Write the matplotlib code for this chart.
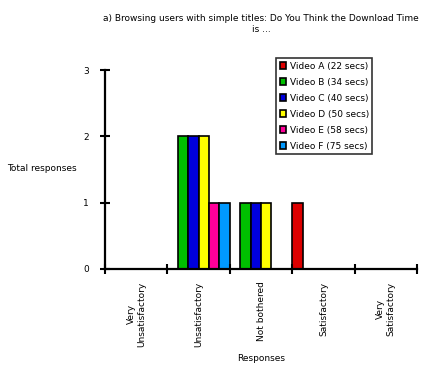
import numpy as np
import matplotlib
matplotlib.use("Agg")
import matplotlib.pyplot as plt

categories = ["Very\nUnsatisfactory", "Unsatisfactory", "Not bothered",
              "Satisfactory", "Very\nSatisfactory"]
series = ["Video A (22 secs)", "Video B (34 secs)", "Video C (40 secs)",
          "Video D (50 secs)", "Video E (58 secs)", "Video F (75 secs)"]
counts = [
    [0, 0, 0, 1, 0],
    [0, 2, 1, 0, 0],
    [0, 2, 1, 0, 0],
    [0, 2, 1, 0, 0],
    [0, 1, 0, 0, 0],
    [0, 1, 0, 0, 0],
]
colors = ["#DD0000", "#00C000", "#0000DD", "#FFFF00", "#FF0099", "#0099FF"]

plt.rcParams['font.family'] = ['DejaVu Sans']
fig = plt.figure(figsize=(4.3, 3.72), dpi=100)
ax = fig.add_axes([105 / 430, 103 / 372, 312 / 430, 199 / 372])

n = len(series)
w = 1.0 / n
x = np.arange(len(categories))
for i in range(n):
    ax.bar(x + i * w, counts[i], width=w, align='edge', color=colors[i],
           edgecolor='black', linewidth=1.2, label=series[i])

ax.set_xlim(0, len(categories))
ax.set_ylim(0, 3)
ax.set_yticks([0, 1, 2, 3])
ax.set_xticks(np.arange(len(categories) + 1))
ax.set_xticklabels([])
ax.set_xticks(x + 0.5, minor=True)
ax.set_xticklabels(categories, minor=True, rotation=90, va='top',
                   ha='center', multialignment='center', fontsize=6.5)
ax.tick_params(axis='x', which='minor', length=0, pad=9)
ax.tick_params(axis='both', which='major', direction='inout', length=7,
               width=1.5, labelsize=6.5)
ax.tick_params(axis='y', pad=8)

for s in ['top', 'right']:
    ax.spines[s].set_visible(False)
for s in ['left', 'bottom']:
    ax.spines[s].set_linewidth(1.6)

ax.set_xlabel("Responses", fontsize=6.5, labelpad=5)
fig.text(7 / 430, 1 - 168 / 372, "Total responses", fontsize=6.5,
         ha='left', va='center')
fig.text(261 / 430, 1 - 24 / 372,
         "a) Browsing users with simple titles: Do You Think the Download Time\nis ...",
         fontsize=6.5, ha='center', va='center', multialignment='center')

leg = ax.legend(loc='upper left', bbox_to_anchor=(276 / 430, 1 - 58 / 372),
                bbox_transform=fig.transFigure, fontsize=6.5, frameon=True,
                fancybox=False, handlelength=0.7, handleheight=0.7,
                handletextpad=0.4, labelspacing=0.78, borderpad=0.4,
                borderaxespad=0)
leg.get_frame().set_edgecolor('black')
leg.get_frame().set_linewidth(1.2)

fig.savefig("out.png", dpi=100)
